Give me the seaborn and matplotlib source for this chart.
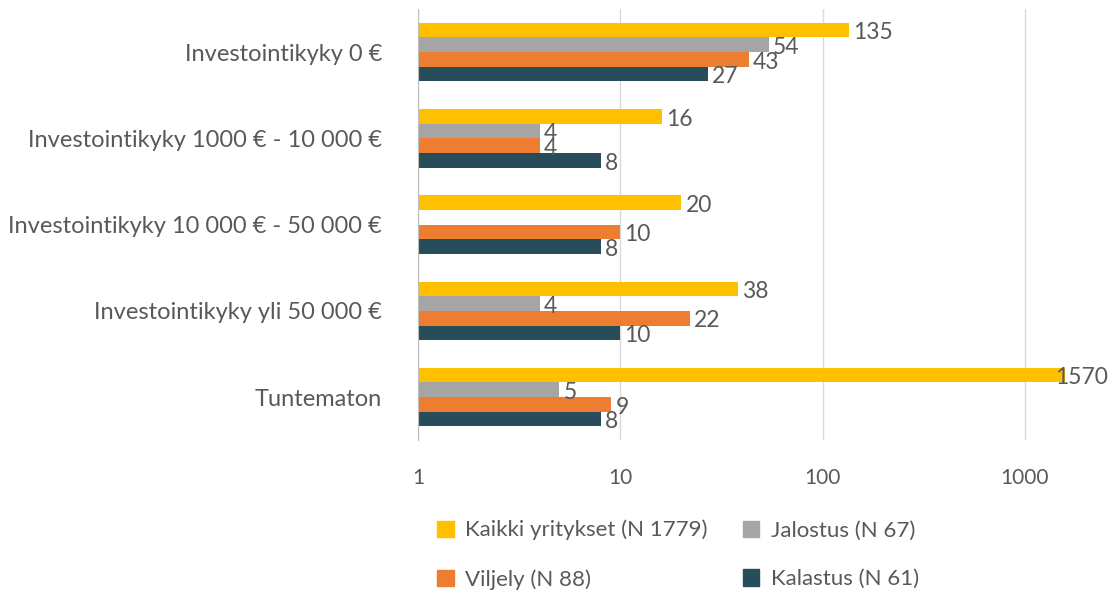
import numpy as np
import pandas as pd
import matplotlib
matplotlib.use("Agg")
import matplotlib.pyplot as plt
import seaborn as sns

# data
categories = [
    "Investointikyky 0 €",
    "Investointikyky 1000 € - 10 000 €",
    "Investointikyky 10 000 € - 50 000 €",
    "Investointikyky yli 50 000 €",
    "Tuntematon",
]
series = ["Kaikki yritykset (N 1779)", "Jalostus (N 67)", "Viljely (N 88)", "Kalastus (N 61)"]
kaikki = [135, 16, 20, 38, 1570]
jalostus = [54, 4, np.nan, 4, 5]
viljely = [43, 4, 10, 22, 9]
kalastus = [27, 8, 8, 10, 8]
colors = ["#FFC000", "#A5A5A5", "#ED7D31", "#264D59"]

rows = []
for s, vals in zip(series, [kaikki, jalostus, viljely, kalastus]):
    for c, v in zip(categories, vals):
        rows.append({"kategoria": c, "sarja": s, "arvo": v})
df = pd.DataFrame(rows)

sns.set_style("white")
plt.rcParams["font.family"] = ["Lato", "DejaVu Sans"]
text_col = "#595959"

fig, ax = plt.subplots(figsize=(11.09, 5.95), dpi=100)
fig.subplots_adjust(left=0.377, right=0.983, top=0.985, bottom=0.26)

sns.barplot(data=df, y="kategoria", x="arvo", hue="sarja", order=categories,
            hue_order=series, palette=colors, width=0.68, orient="h",
            saturation=1, linewidth=0, ax=ax, legend=False)
ax.set_xscale("log")
ax.set_xlim(1, 2100)
ax.set_xticks([1, 10, 100, 1000])
ax.set_xticklabels(["1", "10", "100", "1000"])
ax.xaxis.set_minor_locator(matplotlib.ticker.NullLocator())
ax.set_xlabel("")
ax.set_ylabel("")

ax.grid(axis="x", color="#D9D9D9", linewidth=1)
ax.set_axisbelow(True)
for side in ["top", "right", "bottom"]:
    ax.spines[side].set_visible(False)
ax.spines["left"].set_color("#BFBFBF")
ax.tick_params(axis="both", length=0, colors=text_col)
ax.tick_params(axis="y", pad=26, labelsize=17)
ax.tick_params(axis="x", pad=20, labelsize=15)

# value labels just past the bar end; the long one is pulled back so it fits
for cont in ax.containers:
    for bar, v in zip(cont, cont.datavalues):
        if np.isnan(v):
            continue
        off = -7 if v > 1000 else 3
        ax.annotate(f"{v:.0f}", (bar.get_x() + bar.get_width(), bar.get_y() + bar.get_height() / 2),
                    xytext=(off, -2), textcoords="offset points", va="center", ha="left",
                    color=text_col, fontsize=16.5)

handles = [plt.Rectangle((0, 0), 1, 1, color=c) for c in colors]
order = [0, 2, 1, 3]
fig.legend([handles[i] for i in order], [series[i] for i in order],
           loc="lower left", bbox_to_anchor=(0.376, -0.025),
           ncol=2, frameon=False, fontsize=16, labelcolor=text_col,
           handlelength=0.75, handleheight=0.75, handletextpad=0.5,
           columnspacing=1.6, labelspacing=1.3)

fig.savefig("out.png", dpi=100)
